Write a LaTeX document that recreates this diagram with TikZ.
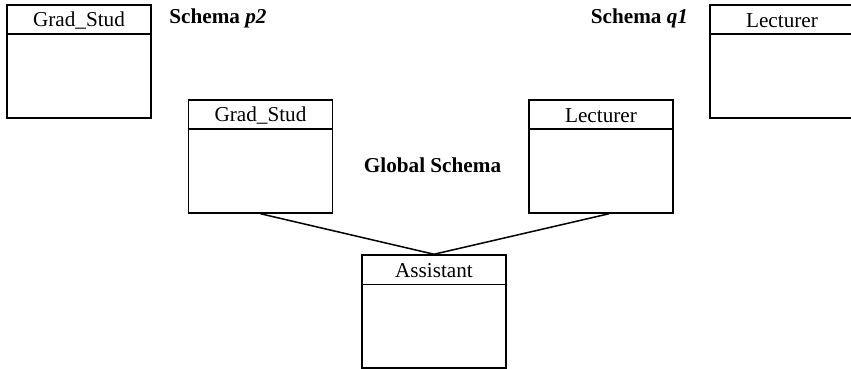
\documentclass[tikz,border=0pt]{standalone}
\usepackage{fontspec}
\setmainfont{Liberation Serif}
\usetikzlibrary{calc}
\tikzset{
  classbox/.style={draw, line width=0.75pt, minimum width=72pt, minimum height=56.5pt, inner sep=0pt},
  classname/.style={font=\fontsize{10.6}{12}\selectfont, inner sep=0pt, anchor=center},
  heading/.style={font=\fontsize{10.6}{12}\selectfont\bfseries, inner sep=0pt, anchor=center},
  link/.style={line width=0.75pt}
}
% draw one class box: name, centre x, top y, title
\newcommand{\classbox}[4]{%
  \node[classbox] (#1) at (#2,#3+56.5) {};
  \draw[line width=0.75pt] ($(#1.north west)+(0,30)$) -- ($(#1.north east)+(0,30)$);
  \node[classname] (#1-title) at (#2,#3+15.5) {#4};
}
\begin{document}
\begin{tikzpicture}[x=0.5pt,y=-0.5pt]
  \useasboundingbox (0,0) rectangle (851,369);
  \clip (0,0) rectangle (851,369);

  % local schemas
  \classbox{p2grad}{79}{5}{Grad\_Stud}
  \node[heading] (p2label) at (218,18) {Schema \textit{p2}};
  \classbox{q1lect}{782}{5}{Lecturer}
  \node[heading] (q1label) at (639.5,18) {Schema \textit{q1}};

  % global schema
  \classbox{ggrad}{260.5}{100}{Grad\_Stud}
  \classbox{glect}{601}{100}{Lecturer}
  \classbox{asst}{434}{255}{Assistant}
  \node[heading] (glabel) at (432.5,165) {Global Schema};

  \draw[link] (ggrad.south) -- (asst.north);
  \draw[link] ([xshift=4pt]glect.south) -- (asst.north);
\end{tikzpicture}
\end{document}
